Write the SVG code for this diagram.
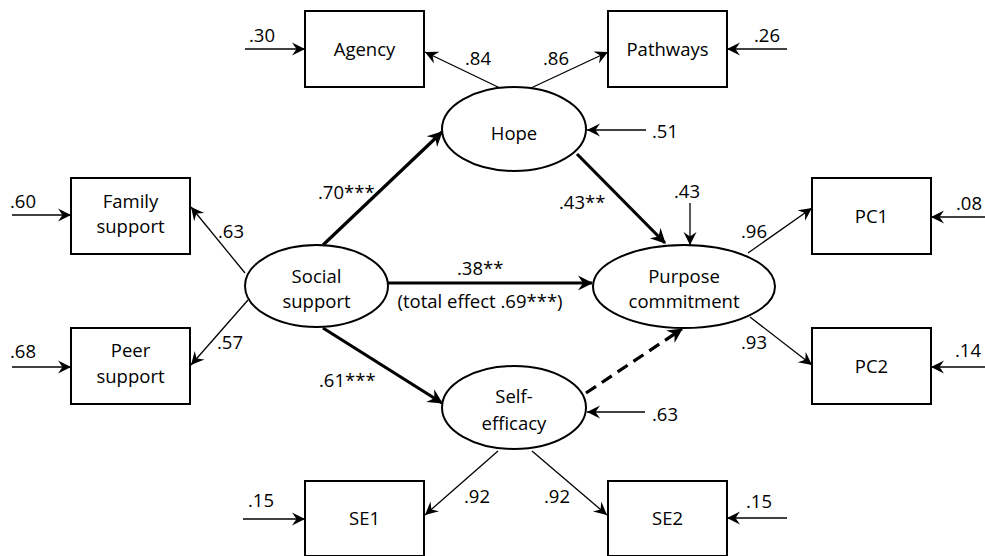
<svg xmlns="http://www.w3.org/2000/svg" width="985" height="556" viewBox="0 0 985 556">
<style>
text{font-family:"Open Sans","Noto Sans","Liberation Sans",sans-serif;font-size:18.5px;fill:#000}
.c{text-anchor:middle}
.box{fill:#fff;stroke:#000;stroke-width:2}
.ell{fill:#fff;stroke:#000;stroke-width:2}
.thin{stroke:#000;stroke-width:1.3;fill:none;marker-end:url(#ah)}
.thick{stroke:#000;stroke-width:3.2;fill:none;marker-end:url(#ahb)}
.dash{stroke-dasharray:12 7}
</style>
<defs>
<marker id="ah" viewBox="-14 -8 15 16" refX="0" refY="0" markerWidth="15" markerHeight="16" markerUnits="userSpaceOnUse" orient="auto">
<path d="M0,0 L-13,-6.5 L-8.5,0 L-13,6.5 Z" fill="#000"/>
</marker>
<marker id="ahb" viewBox="-16 -9 17 18" refX="0" refY="0" markerWidth="17" markerHeight="18" markerUnits="userSpaceOnUse" orient="auto">
<path d="M1,0 L-14,-7.5 L-9,0 L-14,7.5 Z" fill="#000"/>
</marker>
</defs>
<rect width="985" height="556" fill="#fff"/>
<g id="connectors">
<line class="thin" x1="245" y1="49" x2="305" y2="49"/>
<line class="thin" x1="787" y1="49" x2="727" y2="49"/>
<line class="thin" x1="500" y1="88" x2="425" y2="52"/>
<line class="thin" x1="531" y1="88" x2="608" y2="52"/>
<line class="thin" x1="646" y1="130" x2="587" y2="130"/>
<line class="thin" x1="12" y1="215" x2="71" y2="215"/>
<line class="thin" x1="12" y1="367" x2="71" y2="367"/>
<line class="thin" x1="245" y1="273" x2="191" y2="207"/>
<line class="thin" x1="248" y1="300" x2="191" y2="365"/>
<line class="thick" x1="323" y1="245" x2="442" y2="132"/>
<line class="thick" x1="388" y1="283" x2="592" y2="283"/>
<line class="thick" x1="577" y1="154" x2="665" y2="243"/>
<line class="thin" x1="690" y1="203" x2="690" y2="245"/>
<line class="thick dash" x1="586" y1="393" x2="682" y2="329"/>
<line class="thick" x1="323" y1="328" x2="442" y2="403"/>
<line class="thin" x1="645" y1="412" x2="587" y2="412"/>
<line class="thin" x1="748" y1="253" x2="812" y2="208"/>
<line class="thin" x1="750" y1="317" x2="812" y2="365"/>
<line class="thin" x1="985" y1="217" x2="931" y2="217"/>
<line class="thin" x1="985" y1="367" x2="931" y2="367"/>
<line class="thin" x1="498" y1="451" x2="425" y2="515"/>
<line class="thin" x1="532" y1="451" x2="607" y2="515"/>
<line class="thin" x1="243" y1="519" x2="305" y2="519"/>
<line class="thin" x1="787" y1="518" x2="727" y2="518"/>
</g>
<g id="labels">
<text x="249" y="42">.30</text>
<text x="754" y="42">.26</text>
<text x="465" y="65">.84</text>
<text x="543" y="65">.86</text>
<text x="652" y="138">.51</text>
<text x="10" y="208">.60</text>
<text x="218" y="238">.63</text>
<text x="318" y="199">.70***</text>
<text x="457" y="275">.38**</text>
<text class="c" x="480" y="308">(total effect .69***)</text>
<text x="559" y="209">.43**</text>
<text x="674" y="198">.43</text>
<text x="741" y="238">.96</text>
<text x="956" y="210">.08</text>
<text x="217" y="349">.57</text>
<text x="10" y="358">.68</text>
<text x="741" y="349">.93</text>
<text x="955" y="357">.14</text>
<text x="319" y="387">.61***</text>
<text x="652" y="421">.63</text>
<text x="464" y="503">.92</text>
<text x="544" y="503">.92</text>
<text x="248" y="507">.15</text>
<text x="746" y="508">.15</text>
</g>
<g id="agency"><rect class="box" x="305" y="11" width="119" height="76"/><text class="c" x="364.5" y="56">Agency</text></g>
<g id="pathways"><rect class="box" x="608" y="11" width="119" height="76"/><text class="c" x="667.5" y="56">Pathways</text></g>
<g id="family-support"><rect class="box" x="71" y="178" width="119" height="76"/><text class="c" x="130.5" y="208">Family</text><text class="c" x="130.5" y="233">support</text></g>
<g id="peer-support"><rect class="box" x="71" y="328" width="119" height="76"/><text class="c" x="130.5" y="357">Peer</text><text class="c" x="130.5" y="383">support</text></g>
<g id="pc1"><rect class="box" x="812" y="178" width="119" height="76"/><text class="c" x="871.5" y="223">PC1</text></g>
<g id="pc2"><rect class="box" x="812" y="328" width="119" height="76"/><text class="c" x="871.5" y="373">PC2</text></g>
<g id="se1"><rect class="box" x="305" y="481" width="119" height="75"/><text class="c" x="364.5" y="525">SE1</text></g>
<g id="se2"><rect class="box" x="608" y="481" width="119" height="75"/><text class="c" x="667.5" y="525">SE2</text></g>
<g id="hope"><ellipse class="ell" cx="514" cy="129" rx="72" ry="42"/><text class="c" x="514" y="140">Hope</text></g>
<g id="social-support"><ellipse class="ell" cx="316.5" cy="286" rx="71.5" ry="41"/><text class="c" x="316.5" y="283">Social</text><text class="c" x="316.5" y="308">support</text></g>
<g id="purpose-commitment"><ellipse class="ell" cx="684" cy="286.5" rx="91" ry="41.5"/><text class="c" x="684" y="283">Purpose</text><text class="c" x="684" y="308">commitment</text></g>
<g id="self-efficacy"><ellipse class="ell" cx="514" cy="407.5" rx="72" ry="41.5"/><text class="c" x="514" y="403">Self-</text><text class="c" x="514" y="430">efficacy</text></g>
</svg>
